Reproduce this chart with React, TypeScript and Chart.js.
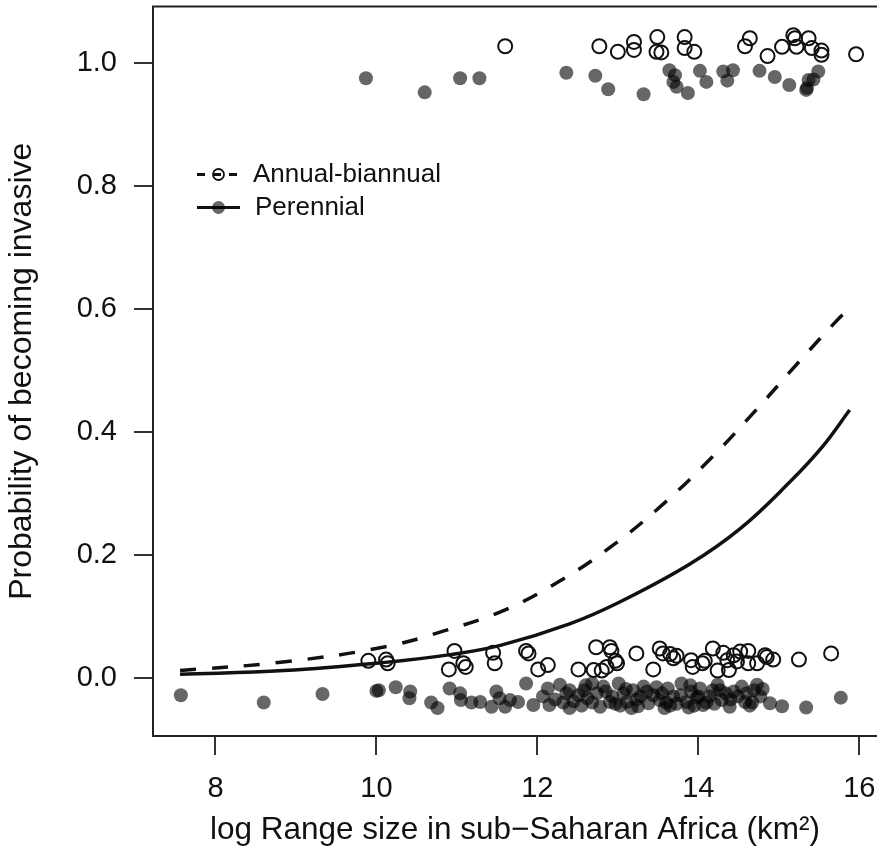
import React, { useEffect, useRef } from 'react';
import { Chart, registerables } from 'chart.js';

Chart.register(...registerables);

// ---- Axis ticks ----
const X_TICKS = [8, 10, 12, 14, 16];
const Y_TICKS = [0, 0.2, 0.4, 0.6, 0.8, 1.0];

// ---- Fitted curves ----
const annualCurveX = [7.56, 8.84, 10.08, 10.85, 11.60, 12.32, 12.97, 13.58, 14.16, 14.71, 15.24, 15.76, 15.88];
const annualCurveY = [0.012, 0.026, 0.050, 0.077, 0.111, 0.161, 0.219, 0.285, 0.358, 0.435, 0.513, 0.587, 0.600];

const perennialCurveX = [7.56, 8.85, 10.08, 10.92, 11.54, 12.40, 13.03, 13.89, 14.52, 15.13, 15.54, 15.88];
const perennialCurveY = [0.006, 0.012, 0.025, 0.038, 0.053, 0.088, 0.124, 0.185, 0.243, 0.318, 0.376, 0.436];

// ---- Jittered observations: annual-biannual (open circles) ----
const annualInvasive: [number, number][] = [
  [11.60, 1.028], [12.77, 1.028], [13.00, 1.019], [13.20, 1.035], [13.20, 1.022], [13.49, 1.043],
  [13.48, 1.019], [13.54, 1.018], [13.83, 1.043], [13.83, 1.025], [13.95, 1.019], [14.64, 1.041],
  [14.58, 1.028], [14.86, 1.012], [15.04, 1.027], [15.18, 1.046], [15.20, 1.041], [15.22, 1.027],
  [15.37, 1.041], [15.41, 1.025], [15.53, 1.021], [15.53, 1.014], [15.96, 1.015],
];
const annualNonInvasive: [number, number][] = [
  [9.90, 0.028], [10.12, 0.030], [10.14, 0.024], [10.97, 0.044], [10.90, 0.014], [11.08, 0.024],
  [11.11, 0.018], [11.45, 0.041], [11.47, 0.024], [11.86, 0.044], [11.89, 0.040], [12.01, 0.014],
  [12.13, 0.021], [12.51, 0.014], [12.73, 0.050], [12.70, 0.013], [12.80, 0.012], [12.90, 0.050],
  [12.92, 0.044], [12.97, 0.028], [12.86, 0.018], [12.99, 0.024], [13.23, 0.040], [13.44, 0.014],
  [13.52, 0.048], [13.56, 0.040], [13.65, 0.039], [13.69, 0.032], [13.73, 0.036], [13.91, 0.029],
  [13.93, 0.018], [14.05, 0.024], [14.08, 0.028], [14.18, 0.048], [14.24, 0.012], [14.31, 0.041],
  [14.36, 0.029], [14.38, 0.013], [14.44, 0.037], [14.48, 0.027], [14.52, 0.043], [14.62, 0.044],
  [14.62, 0.024], [14.73, 0.024], [14.83, 0.037], [14.85, 0.034], [14.93, 0.030], [15.25, 0.030],
  [15.65, 0.040],
];

// ---- Jittered observations: perennial (filled circles) ----
const perennialInvasive: [number, number][] = [
  [9.87, 0.976], [10.60, 0.953], [11.04, 0.976], [11.28, 0.976], [12.36, 0.985], [12.72, 0.980],
  [12.88, 0.958], [13.32, 0.950], [13.64, 0.989], [13.71, 0.981], [13.69, 0.970], [13.73, 0.962],
  [13.87, 0.952], [14.02, 0.988], [14.10, 0.970], [14.31, 0.987], [14.36, 0.972], [14.43, 0.989],
  [14.76, 0.988], [14.95, 0.978], [15.13, 0.965], [15.35, 0.960], [15.37, 0.973], [15.43, 0.974],
  [15.49, 0.987], [15.34, 0.957],
];
const perennialNonInvasive: [number, number][] = [
  [7.57, -0.028], [8.60, -0.040], [9.33, -0.026], [10.00, -0.021], [10.03, -0.020], [10.24, -0.015],
  [10.42, -0.022], [10.41, -0.033], [10.68, -0.040], [10.76, -0.049], [10.91, -0.017], [11.04, -0.025],
  [11.05, -0.036], [11.18, -0.040], [11.29, -0.039], [11.43, -0.047], [11.49, -0.022], [11.53, -0.033],
  [11.60, -0.047], [11.66, -0.036], [11.76, -0.039], [11.86, -0.009], [11.95, -0.044], [12.07, -0.030],
  [12.13, -0.017], [12.15, -0.044], [12.28, -0.011], [12.36, -0.025], [12.40, -0.049], [12.51, -0.028],
  [12.62, -0.033], [12.68, -0.009], [12.74, -0.025], [12.78, -0.047], [12.82, -0.014], [12.90, -0.039],
  [13.01, -0.009], [13.07, -0.025], [13.11, -0.039], [13.17, -0.049], [13.19, -0.020], [13.32, -0.014],
  [13.38, -0.041], [13.44, -0.028], [13.52, -0.036], [13.58, -0.049], [13.62, -0.017], [13.69, -0.030],
  [13.79, -0.009], [13.85, -0.039], [13.91, -0.022], [14.02, -0.017], [14.06, -0.044], [14.14, -0.030],
  [14.24, -0.011], [14.29, -0.036], [14.39, -0.047], [14.44, -0.022], [14.54, -0.014], [14.58, -0.039],
  [14.69, -0.020], [14.73, -0.011], [14.77, -0.030], [14.89, -0.041], [15.04, -0.046], [15.34, -0.048],
  [15.77, -0.032],
  [12.32, -0.040], [12.58, -0.020], [12.93, -0.030], [13.23, -0.035], [13.48, -0.015], [13.73, -0.042],
  [13.98, -0.032], [14.18, -0.020], [14.49, -0.030], [14.64, -0.045], [12.22, -0.035], [13.03, -0.045],
  [13.88, -0.048], [14.34, -0.025], [12.68, -0.040],
  [12.45, -0.038], [12.55, -0.045], [12.85, -0.022], [12.97, -0.042], [13.10, -0.018], [13.28, -0.030],
  [13.36, -0.022], [13.55, -0.025], [13.60, -0.040], [13.78, -0.028], [13.95, -0.045], [14.00, -0.030],
  [14.20, -0.042], [14.27, -0.020], [14.40, -0.035], [14.60, -0.025], [14.67, -0.040], [14.80, -0.018],
  [12.60, -0.012], [13.25, -0.046], [13.90, -0.012], [14.10, -0.040], [12.40, -0.020], [13.65, -0.045],
];

const LEGEND_LABELS = ['Annual-biannual', 'Perennial'];

const FONT = "'Liberation Sans', Arial, Helvetica, sans-serif";
const INK = '#111111';
const FILL = 'rgba(0,0,0,0.6)';

const toXY = (pairs: [number, number][]) => pairs.map(([x, y]) => ({ x, y }));
const zipXY = (xs: number[], ys: number[]) => xs.map((x, i) => ({ x, y: ys[i] }));

const frameAndLegend = {
  id: 'frameAndLegend',
  afterDatasetsDraw(chart: any) {
    const { ctx, chartArea } = chart;
    ctx.save();
    // top frame line (R box)
    ctx.strokeStyle = '#222';
    ctx.lineWidth = 2;
    ctx.beginPath();
    ctx.moveTo(chartArea.left - 1, chartArea.top);
    ctx.lineTo(chart.width, chartArea.top);
    ctx.stroke();

    // legend
    const x0 = chartArea.left + 44;
    const x1 = chartArea.left + 87;
    const xc = (x0 + x1) / 2;
    const xt = chartArea.left + 100;
    const row1 = chartArea.top + 168;
    const row2 = chartArea.top + 201;

    ctx.strokeStyle = INK;
    ctx.lineWidth = 3;
    ctx.setLineDash([8, 8]);
    ctx.beginPath();
    ctx.moveTo(x0, row1);
    ctx.lineTo(x1, row1);
    ctx.stroke();
    ctx.setLineDash([]);
    ctx.lineWidth = 1.8;
    ctx.beginPath();
    ctx.arc(xc, row1, 5.5, 0, Math.PI * 2);
    ctx.stroke();

    ctx.lineWidth = 3;
    ctx.beginPath();
    ctx.moveTo(x0, row2);
    ctx.lineTo(x1, row2);
    ctx.stroke();
    ctx.fillStyle = FILL;
    ctx.beginPath();
    ctx.arc(xc, row2, 6.5, 0, Math.PI * 2);
    ctx.fill();

    ctx.fillStyle = INK;
    ctx.font = `26px ${FONT}`;
    ctx.textAlign = 'left';
    ctx.textBaseline = 'middle';
    ctx.fillText(LEGEND_LABELS[0], xt, row1);
    ctx.fillText(LEGEND_LABELS[1], xt + 2, row2);
    ctx.restore();
  },
};

const CANVAS_W = 877;
const CANVAS_H = 858;

export default function App() {
  const canvasRef = useRef<HTMLCanvasElement | null>(null);

  useEffect(() => {
    if (!canvasRef.current) return;
    const chart = new Chart(canvasRef.current, {
      type: 'scatter',
      data: {
        datasets: [
          {
            label: 'Perennial fit',
            data: zipXY(perennialCurveX, perennialCurveY),
            showLine: true,
            borderColor: INK,
            borderWidth: 3.5,
            pointRadius: 0,
            tension: 0.4,
            order: 0,
          } as any,
          {
            label: 'Annual fit',
            data: zipXY(annualCurveX, annualCurveY),
            showLine: true,
            borderColor: INK,
            borderWidth: 3.5,
            borderDash: [16, 16],
            pointRadius: 0,
            tension: 0.4,
            order: 0,
          } as any,
          {
            label: 'Annual-biannual',
            data: [...toXY(annualInvasive), ...toXY(annualNonInvasive)],
            pointRadius: 7,
            pointBorderWidth: 2,
            pointBorderColor: INK,
            pointBackgroundColor: 'rgba(0,0,0,0)',
            order: 1,
          },
          {
            label: 'Perennial',
            data: [...toXY(perennialInvasive), ...toXY(perennialNonInvasive)],
            pointRadius: 7,
            pointBorderWidth: 0,
            pointBackgroundColor: FILL,
            order: 2,
          },
        ],
      },
      options: {
        animation: false,
        responsive: false,
        devicePixelRatio: 1,
        layout: { autoPadding: false, padding: { top: 6.5, right: 0, bottom: 0, left: 0 } },
        plugins: {
          legend: { display: false },
          tooltip: { enabled: false },
        },
        scales: {
          x: {
            type: 'linear',
            min: 7.224,
            max: 16.22,
            afterBuildTicks: (scale: any) => {
              scale.ticks = X_TICKS.map((v) => ({ value: v }));
            },
            afterFit: (scale: any) => {
              scale.height = 122;
              scale.paddingLeft = 0;
              scale.paddingRight = 0;
            },
            ticks: {
              font: { family: FONT, size: 29 },
              color: INK,
              padding: 17,
              maxRotation: 0,
              autoSkip: false,
              callback: (v: any) => String(v),
            },
            grid: {
              drawOnChartArea: false,
              drawTicks: true,
              tickLength: 19,
              color: '#333',
              lineWidth: 2,
            },
            border: { display: true, color: '#222', width: 2 },
            title: {
              display: true,
              text: 'log Range size in sub\u2212Saharan Africa (km\u00B2)',
              font: { family: FONT, size: 31.5 },
              color: INK,
              padding: { top: 0, bottom: 9 },
            },
          },
          y: {
            type: 'linear',
            min: -0.0944,
            max: 1.0927,
            afterBuildTicks: (scale: any) => {
              scale.ticks = Y_TICKS.map((v) => ({ value: v }));
            },
            afterFit: (scale: any) => {
              scale.width = 153;
              scale.paddingTop = 0;
              scale.paddingBottom = 0;
            },
            ticks: {
              font: { family: FONT, size: 29 },
              color: INK,
              padding: 17,
              autoSkip: false,
              callback: (v: any) => Number(v).toFixed(1),
            },
            grid: {
              drawOnChartArea: false,
              drawTicks: true,
              tickLength: 19,
              color: '#333',
              lineWidth: 2,
            },
            border: { display: true, color: '#222', width: 2 },
            title: {
              display: true,
              text: 'Probability of becoming invasive',
              font: { family: FONT, size: 32 },
              color: INK,
              padding: { top: 3, bottom: 0 },
            },
          },
        },
      },
      plugins: [frameAndLegend],
    });
    return () => chart.destroy();
  }, []);

  return (
    <div
      style={{
        position: 'fixed',
        left: 0,
        top: 0,
        width: 877,
        height: 858,
        overflow: 'hidden',
        background: '#fff',
      }}
    >
      <canvas
        ref={canvasRef}
        width={CANVAS_W}
        height={CANVAS_H}
        style={{ width: CANVAS_W, height: CANVAS_H, display: 'block' }}
      />
    </div>
  );
}
